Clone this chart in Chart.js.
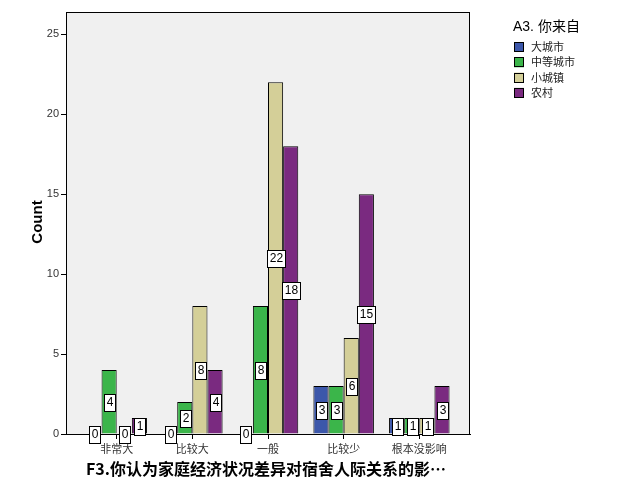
<!DOCTYPE html>
<html>
<head>
<meta charset="utf-8">
<script src="https://cdn.jsdelivr.net/npm/chart.js@4"></script>
<style>
  html, body { margin: 0; padding: 0; background: #fff; }
  #wrap { width: 629px; height: 504px; position: relative; }
</style>
</head>
<body>
<div id="wrap"><canvas id="chart" width="629" height="504"></canvas></div>
<script>
// データ
const categories = ['非常大', '比较大', '一般', '比较少', '根本没影响'];
const bigCity = [0, 0, 0, 3, 1];
const midCity = [4, 2, 8, 3, 1];
const smallTown = [0, 8, 22, 6, 1];
const village = [1, 4, 18, 15, 3];
const seriesNames = ['大城市', '中等城市', '小城镇', '农村'];
const seriesColors = ['#3C57AA', '#3BB54A', '#D4CF98', '#7A2A80'];
const yTicks = [0, 5, 10, 15, 20, 25];
const legendTitle = 'A3. 你来自';
const xTitle = 'F3.你认为家庭经济状况差异对宿舍人际关系的影…';
const yTitle = 'Count';

const latin = '"Liberation Sans", Arial, sans-serif';
const cjk = '"Liberation Sans", "Noto Sans CJK SC", sans-serif';

function toPoints(arr) {
    return arr.map((v, i) => ({ x: i, y: v }));
}

const allSeries = [bigCity, midCity, smallTown, village];

// 背景と枠
const bgPlugin = {
    id: 'bg',
    beforeDraw(chart) {
        const { ctx, chartArea: a } = chart;
        ctx.save();
        ctx.fillStyle = '#F0F0F0';
        ctx.fillRect(a.left, a.top, a.right - a.left, a.bottom - a.top);
        ctx.restore();
    },
    afterDatasetsDraw(chart) {
        const { ctx, chartArea: a } = chart;
        ctx.save();
        ctx.strokeStyle = '#000';
        ctx.lineWidth = 1;
        ctx.strokeRect(a.left + 0.5, a.top + 0.5, a.right - a.left - 1, a.bottom - a.top);
        ctx.restore();
    }
};

// 棒ラベル（白い箱）
const labelPlugin = {
    id: 'boxLabels',
    afterDatasetsDraw(chart) {
        const { ctx } = chart;
        const yScale = chart.scales.y;
        ctx.save();
        ctx.font = '12px ' + latin;
        ctx.textAlign = 'center';
        ctx.textBaseline = 'middle';
        chart.data.datasets.forEach((ds, di) => {
            const meta = chart.getDatasetMeta(di);
            meta.data.forEach((bar, i) => {
                const v = ds.data[i].y;
                const txt = String(v);
                const cx = Math.round(bar.x);
                const cy = Math.round(yScale.getPixelForValue(v / 2));
                const w = Math.ceil(ctx.measureText(txt).width) + 4;
                const h = 17;
                const x0 = Math.round(cx - w / 2);
                const y0 = Math.round(cy - h / 2);
                ctx.fillStyle = '#fff';
                ctx.fillRect(x0, y0, w, h);
                ctx.strokeStyle = '#000';
                ctx.lineWidth = 1;
                ctx.strokeRect(x0 + 0.5, y0 + 0.5, w, h);
                ctx.fillStyle = '#000';
                ctx.fillText(txt, x0 + w / 2 + 0.5, cy + 1);
            });
        });
        ctx.restore();
    }
};

// 凡例と軸タイトル
const legendPlugin = {
    id: 'sideLegend',
    afterDraw(chart) {
        const { ctx, chartArea: a } = chart;
        ctx.save();
        ctx.fillStyle = '#000';
        ctx.textBaseline = 'middle';
        ctx.textAlign = 'left';
        ctx.font = '14px ' + cjk;
        ctx.fillText(legendTitle, 513, 27);
        ctx.font = '11px "Noto Sans CJK SC", sans-serif';
        seriesNames.forEach((name, i) => {
            const y = 42 + i * 15.3;
            ctx.fillStyle = seriesColors[i];
            ctx.fillRect(514, y, 10, 10);
            ctx.strokeStyle = '#000';
            ctx.lineWidth = 1;
            ctx.strokeRect(514.5, Math.round(y) + 0.5, 9, 9);
            ctx.fillStyle = '#222';
            ctx.fillText(name, 531, y + 5);
        });

        // Y軸タイトル
        ctx.save();
        ctx.translate(38, 222);
        ctx.rotate(-Math.PI / 2);
        ctx.textAlign = 'center';
        ctx.fillStyle = '#000';
        ctx.font = 'bold 15px ' + latin;
        ctx.fillText(yTitle, 0, 0);
        ctx.restore();

        // X軸タイトル
        ctx.textAlign = 'center';
        ctx.fillStyle = '#000';
        ctx.font = 'bold 16px "Noto Sans CJK SC", sans-serif';
        ctx.fillText(xTitle, 266, 469);
        ctx.restore();
    }
};

new Chart(document.getElementById('chart'), {
    type: 'bar',
    data: {
        datasets: allSeries.map((arr, i) => ({
            label: seriesNames[i],
            data: toPoints(arr),
            backgroundColor: seriesColors[i],
            borderColor: '#000',
            borderWidth: 1,
            borderSkipped: 'bottom',
            barPercentage: 1,
            categoryPercentage: 0.8
        }))
    },
    options: {
        responsive: false,
        animation: false,
        layout: { padding: { top: 12, right: 159, left: 0, bottom: 0 } },
        plugins: {
            legend: { display: false },
            tooltip: { enabled: false }
        },
        scales: {
            x: {
                type: 'linear',
                offset: false,
                min: -0.67,
                max: 4.67,
                afterBuildTicks(scale) {
                    scale.ticks = categories.map((c, i) => ({ value: i }));
                },
                afterFit(scale) { scale.height = 70; },
                ticks: {
                    autoSkip: false,
                    maxRotation: 0,
                    padding: 3,
                    color: '#333',
                    font: { family: '"Noto Sans CJK SC", sans-serif', size: 11 },
                    callback: (v) => categories[v] !== undefined ? categories[v] : ''
                },
                grid: { drawOnChartArea: false, drawTicks: true, tickLength: 5, color: '#000', offset: false },
                border: { color: '#000' },
                title: { display: false }
            },
            y: {
                min: 0,
                max: 26.4,
                afterBuildTicks(scale) {
                    scale.ticks = yTicks.map(v => ({ value: v }));
                },
                afterFit(scale) { scale.width = 66; },
                ticks: {
                    color: '#333',
                    padding: 2,
                    font: { family: latin, size: 11 }
                },
                grid: { drawOnChartArea: false, drawTicks: true, tickLength: 5, color: '#000' },
                border: { color: '#000' },
                title: { display: false }
            }
        }
    },
    plugins: [bgPlugin, labelPlugin, legendPlugin]
});
</script>
</body>
</html>
